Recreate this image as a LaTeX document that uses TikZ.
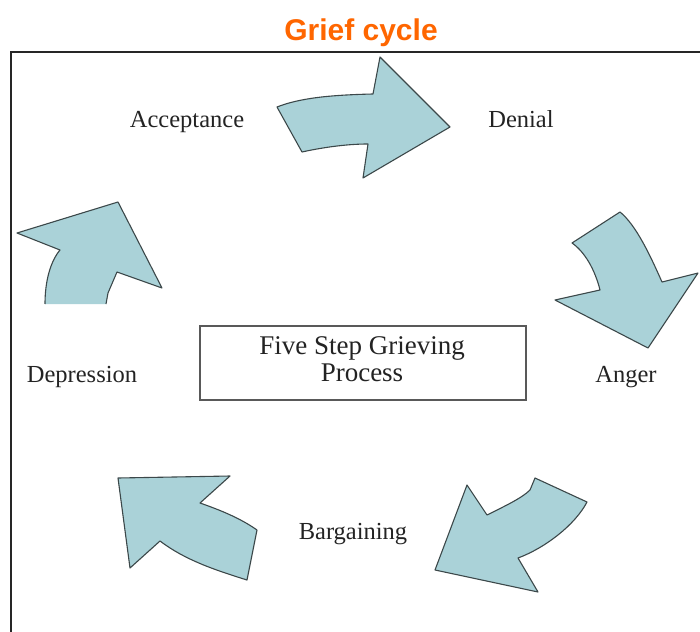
\documentclass[tikz,border=0pt]{standalone}
\usepackage{fontspec}
\setmainfont{Liberation Serif}
\newfontfamily\titlefont{Liberation Sans}
\definecolor{arrowfill}{RGB}{170,210,216}
\definecolor{arrowline}{RGB}{60,72,74}
\definecolor{titleorange}{RGB}{255,102,0}
\definecolor{labeltext}{RGB}{35,35,35}
\tikzset{
  bigarrow/.style={fill=arrowfill, draw=arrowline, line width=1.1pt, line join=round},
  arrowbody/.style={fill=arrowfill},
  arrowedge/.style={draw=arrowline, line width=1.1pt, line join=round},
  steplabel/.style={text=labeltext, font=\fontsize{24.5}{26}\selectfont, inner sep=0pt, anchor=base},
  frameline/.style={draw=black!85, line width=1.8pt},
}
\begin{document}
\begin{tikzpicture}[x=1pt,y=-1pt]
\useasboundingbox (0,0) rectangle (700,631);
\node[text=titleorange, font=\titlefont\bfseries\fontsize{30}{32}\selectfont, inner sep=0pt, anchor=base] (title) at (361,41) {Grief cycle};
\draw[frameline] (11,632) -- (11,52) -- (701,52);
% center box
\node[draw=black!65, line width=1.4pt, minimum width=326pt, minimum height=74pt, inner sep=0pt] (box) at (363,363) {};
\node[text=labeltext, font=\fontsize{27}{27}\selectfont, align=center, inner sep=0pt] (boxtext) at (362,359) {Five Step Grieving\\Process};
% labels
\node[steplabel] (acceptance) at (187,128) {Acceptance};
\node[steplabel] (denial) at (521,128) {Denial};
\node[steplabel] (anger) at (626,382) {Anger};
\node[steplabel] (bargaining) at (353,539) {Bargaining};
\node[steplabel] (depression) at (82,382) {Depression};
% arrow 1: acceptance -> denial
\path[bigarrow] (277,107) .. controls (300,98) and (330,95) .. (373,94) -- (380,57) -- (450,127) -- (363,178) -- (368,144) .. controls (345,144) and (320,148) .. (302,152) -- cycle;
% arrow 2: denial -> anger
\path[bigarrow] (620,212) .. controls (636,225) and (650,255) .. (662,282) -- (698,273) -- (648,348) -- (555,300) -- (600,290) .. controls (595,270) and (585,252) .. (572,243) -- cycle;
% arrow 3: anger -> bargaining
\path[bigarrow] (535,478) -- (587,502) .. controls (575,525) and (545,548) .. (518,558) -- (538,592) -- (435,570) -- (467,485) -- (487,515) .. controls (505,506) and (522,498) .. (530,490) -- cycle;
% arrow 4: bargaining -> depression
\path[bigarrow] (118,478) -- (230,476) -- (200,503) .. controls (220,510) and (240,518) .. (257,530) -- (247,580) .. controls (215,570) and (185,560) .. (160,541) -- (130,568) -- cycle;
% arrow 5: depression -> acceptance (open tail end)
\path[arrowbody] (17,233) -- (118,202) -- (162,288) -- (117,272) -- (108,293) -- (106,304) -- (45,304) .. controls (45,282) and (50,262) .. (60,250) -- cycle;
\path[arrowedge] (106,304) -- (108,293) -- (117,272) -- (162,288) -- (118,202) -- (17,233) -- (60,250) .. controls (50,262) and (45,282) .. (45,304);
\end{tikzpicture}
\end{document}
